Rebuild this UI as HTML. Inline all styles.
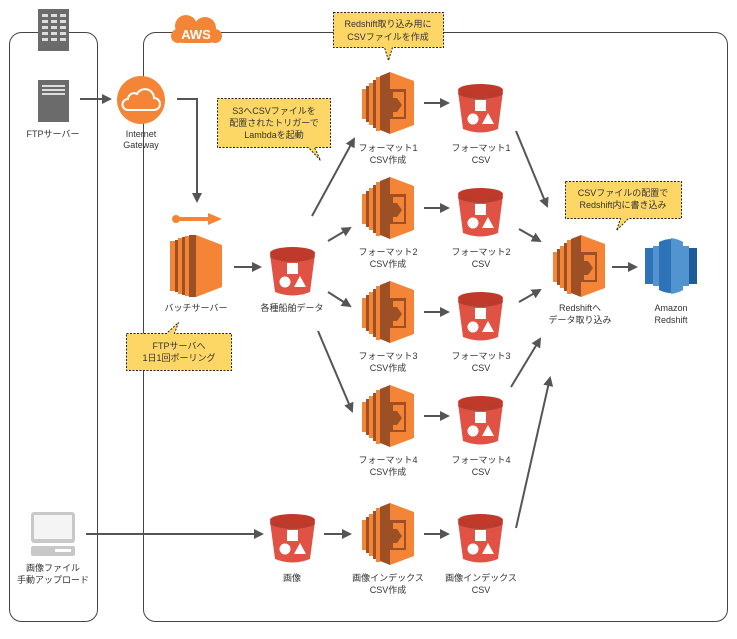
<!DOCTYPE html>
<html><head><meta charset="utf-8"><style>
body{margin:0;background:#fff;width:737px;height:634px;overflow:hidden}
svg text{font-family:"Liberation Sans","Noto Sans CJK JP",sans-serif;font-size:9px;fill:#333;text-anchor:middle}
</style></head><body>
<svg width="737" height="634" viewBox="0 0 737 634" xmlns="http://www.w3.org/2000/svg">
<defs>
<marker id="ah" markerWidth="10" markerHeight="10" refX="8" refY="5" orient="auto" markerUnits="userSpaceOnUse"><path d="M0,0 L10,5 L0,10 z" fill="#555"/></marker>
<g id="lam">
<rect x="0" y="17" width="4" height="30" fill="#f58536"/>
<rect x="4" y="14" width="3" height="36" fill="#9d5025"/>
<rect x="7" y="11" width="4" height="42" fill="#f58536"/>
<rect x="11" y="8" width="3" height="48" fill="#9d5025"/>
<rect x="14" y="5" width="4" height="54" fill="#f58536"/>
<polygon points="18,4 28,0 28,62 18,58" fill="#9d5025"/>
<polygon points="28,0 52,9 52,53 28,62" fill="#f58536"/>
<polygon points="28,17 44,17 44,47 28,47" fill="#9d5025"/>
<rect x="31" y="20" width="11" height="25" fill="#f58536"/>
<rect x="31" y="26" width="4" height="14" fill="#9d5025"/>
<polygon points="35,26 40,33 35,40" fill="#9d5025"/>
</g>
<g id="bkt">
<path d="M0,7 L5,45 Q22.5,52 40,45 L45,7 Z" fill="#e05243"/>
<ellipse cx="22.5" cy="6" rx="22.5" ry="6" fill="#c0392b"/>
<path d="M0,8 Q22.5,16 45,8 L44.6,11 Q22.5,19 0.4,11Z" fill="#8c2a20" opacity=".5"/>
<rect x="17" y="16" width="11" height="11" fill="#fff"/>
<circle cx="15" cy="35" r="5.5" fill="#fff"/>
<polygon points="30,29 36,40 24,40" fill="#fff"/>
</g>
</defs>

<!-- containers -->
<rect x="9.5" y="32.5" width="88" height="589" rx="12" fill="none" stroke="#444" stroke-width="1"/>
<rect x="143.5" y="32.5" width="584" height="589" rx="12" fill="none" stroke="#444" stroke-width="1"/>
<!-- building icon -->
<rect x="38" y="9" width="31" height="42" fill="#6b6b6b"/>
<g fill="#ddd">
<rect x="42" y="14" width="6" height="3"/><rect x="51" y="14" width="6" height="3"/><rect x="60" y="14" width="6" height="3"/>
<rect x="42" y="20" width="6" height="3"/><rect x="51" y="20" width="6" height="3"/><rect x="60" y="20" width="6" height="3"/>
<rect x="42" y="26" width="6" height="3"/><rect x="51" y="26" width="6" height="3"/><rect x="60" y="26" width="6" height="3"/>
<rect x="42" y="32" width="6" height="3"/><rect x="51" y="32" width="6" height="3"/><rect x="60" y="32" width="6" height="3"/>
<rect x="42" y="38" width="6" height="3"/><rect x="51" y="38" width="6" height="3"/><rect x="60" y="38" width="6" height="3"/>
</g>
<!-- AWS badge -->
<g fill="#f58536">
<circle cx="186" cy="26" r="11"/><circle cx="205" cy="28" r="11"/><circle cx="178" cy="36" r="7"/><circle cx="215" cy="36" r="7"/>
<rect x="176" y="28" width="40" height="15" rx="7"/>
</g>
<text x="196" y="39" style="font-size:13px;font-weight:bold;fill:#fff">AWS</text>

<!-- FTP server -->
<rect x="38" y="80" width="31" height="42" fill="#6b6b6b"/>
<rect x="42" y="85" width="23" height="2" fill="#ddd"/><rect x="42" y="89" width="23" height="2" fill="#ddd"/><rect x="42" y="93" width="23" height="2" fill="#ddd"/>
<text x="53" y="137">FTPサーバー</text>
<line x1="80" y1="99" x2="110" y2="99" stroke="#555" stroke-width="2" marker-end="url(#ah)"/>
<!-- IGW -->
<circle cx="141" cy="100" r="24" fill="#f58536"/>
<path d="M128,110 h26 a6,6 0 0 0 0,-12 a9,9 0 0 0 -17,-4 a6,6 0 0 0 -9,5 a5,5 0 0 0 0,11z" fill="none" stroke="#fff" stroke-width="2"/>
<text x="141" y="137">Internet</text>
<text x="141" y="148">Gateway</text>
<polyline points="177,99 197,99 197,201" fill="none" stroke="#555" stroke-width="2" marker-end="url(#ah)"/>
<!-- small orange arrow -->
<circle cx="176" cy="219" r="4" fill="#f58536"/>
<rect x="176" y="217" width="34" height="4" fill="#f58536"/>
<polygon points="208,213 222,219 208,225" fill="#f58536"/>
<!-- EC2 -->
<g transform="translate(170,235)">
<rect x="0" y="6" width="5" height="50" fill="#f58536"/><rect x="5" y="5" width="3" height="52" fill="#9d5025"/>
<rect x="8" y="3" width="4" height="56" fill="#f58536"/><rect x="12" y="2" width="3" height="58" fill="#9d5025"/>
<rect x="15" y="1" width="4" height="60" fill="#f58536"/>
<polygon points="19,0 26,0 26,62 19,62" fill="#9d5025"/>
<polygon points="26,0 52,10 52,52 26,62" fill="#f58536"/>
</g>
<text x="196" y="311">バッチサーバー</text>
<line x1="234" y1="267" x2="260" y2="267" stroke="#555" stroke-width="2" marker-end="url(#ah)"/>
<use href="#bkt" x="270" y="247"/>
<text x="292" y="311">各種船舶データ</text>

<!-- arrows from bucket -->
<g stroke="#555" stroke-width="2" marker-end="url(#ah)">
<line x1="312" y1="216" x2="354" y2="139"/>
<line x1="328" y1="241" x2="350" y2="228"/>
<line x1="328" y1="292" x2="350" y2="306"/>
<line x1="318" y1="331" x2="352" y2="411"/>
<line x1="424" y1="103" x2="448" y2="103"/>
<line x1="424" y1="208" x2="448" y2="208"/>
<line x1="424" y1="312" x2="448" y2="312"/>
<line x1="424" y1="416" x2="448" y2="416"/>
<line x1="424" y1="534" x2="448" y2="534"/>
<line x1="86" y1="534" x2="262" y2="534"/>
<line x1="324" y1="534" x2="350" y2="534"/>
<line x1="516" y1="131" x2="547" y2="206"/>
<line x1="519" y1="229" x2="540" y2="241"/>
<line x1="519" y1="302" x2="540" y2="290"/>
<line x1="511" y1="387" x2="540" y2="339"/>
<line x1="516" y1="528" x2="550" y2="378"/>
<line x1="612" y1="267" x2="636" y2="267"/>
</g>

<!-- lambdas -->
<use href="#lam" x="362" y="72"/>
<use href="#lam" x="362" y="177"/>
<use href="#lam" x="362" y="281"/>
<use href="#lam" x="362" y="385"/>
<use href="#lam" x="362" y="503"/>
<use href="#lam" x="553" y="235"/>
<!-- buckets -->
<use href="#bkt" x="458" y="84"/>
<use href="#bkt" x="458" y="188"/>
<use href="#bkt" x="458" y="292"/>
<use href="#bkt" x="458" y="396"/>
<use href="#bkt" x="458" y="514"/>
<use href="#bkt" x="270" y="514"/>

<text x="388" y="151">フォーマット1</text><text x="388" y="163">CSV作成</text>
<text x="481" y="151">フォーマット1</text><text x="481" y="163">CSV</text>
<text x="388" y="255">フォーマット2</text><text x="388" y="267">CSV作成</text>
<text x="481" y="255">フォーマット2</text><text x="481" y="267">CSV</text>
<text x="388" y="359">フォーマット3</text><text x="388" y="371">CSV作成</text>
<text x="481" y="359">フォーマット3</text><text x="481" y="371">CSV</text>
<text x="388" y="463">フォーマット4</text><text x="388" y="475">CSV作成</text>
<text x="481" y="463">フォーマット4</text><text x="481" y="475">CSV</text>
<text x="388" y="581">画像インデックス</text><text x="388" y="593">CSV作成</text>
<text x="481" y="581">画像インデックス</text><text x="481" y="593">CSV</text>
<text x="292" y="581">画像</text>
<text x="580" y="311">Redshiftへ</text><text x="580" y="323">データ取り込み</text>
<text x="671" y="311">Amazon</text><text x="671" y="323">Redshift</text>

<!-- Redshift icon -->
<g transform="translate(645,238)">
<rect x="0" y="10" width="8" height="36" fill="#2e73b8"/><rect x="8" y="8" width="6" height="40" fill="#5294cf"/>
<rect x="44" y="10" width="8" height="36" fill="#205b99"/><rect x="38" y="8" width="6" height="40" fill="#5294cf"/>
<path d="M14,4 Q26,-2 38,4 L38,52 Q26,58 14,52Z" fill="#2e73b8"/>
<path d="M26,0 Q33,1 38,4 L38,52 Q33,55 26,56Z" fill="#5294cf"/>
</g>

<!-- laptop -->
<rect x="31" y="512" width="44" height="31" rx="3" fill="#c8c8c8"/>
<rect x="34" y="515" width="38" height="24" fill="#f4f4f4"/>
<rect x="31" y="546" width="44" height="10" rx="2" fill="#c8c8c8"/>
<rect x="55" y="549" width="16" height="3" fill="#fff"/>
<text x="53" y="571">画像ファイル</text><text x="53" y="583">手動アップロード</text>

<!-- callouts -->
<g fill="#fdd766" stroke="#222" stroke-width="1" stroke-dasharray="2,1.5">
<path d="M333.5,12.5 h110 v35 h-51 l-4,13 l-4,-13 h-51 z"/>
<path d="M217.5,98.5 h113 v49 h-16 l6,13 l-12,-13 h-91 z"/>
<path d="M565.5,181.5 h116 v37 h-53 l-12,12 l4,-12 h-55 z"/>
<path d="M126.5,333.5 h40 l12,-11 l-4,11 h57 v37 h-105 z"/>
</g>
<text x="388" y="27">Redshift取り込み用に</text><text x="388" y="40">CSVファイルを作成</text>
<text x="274" y="114">S3へCSVファイルを</text><text x="274" y="126">配置されたトリガーで</text><text x="274" y="138">Lambdaを起動</text>
<text x="623" y="196">CSVファイルの配置で</text><text x="623" y="208">Redshift内に書き込み</text>
<text x="179" y="349">FTPサーバへ</text><text x="179" y="361">1日1回ポーリング</text>
</svg>
</body></html>
